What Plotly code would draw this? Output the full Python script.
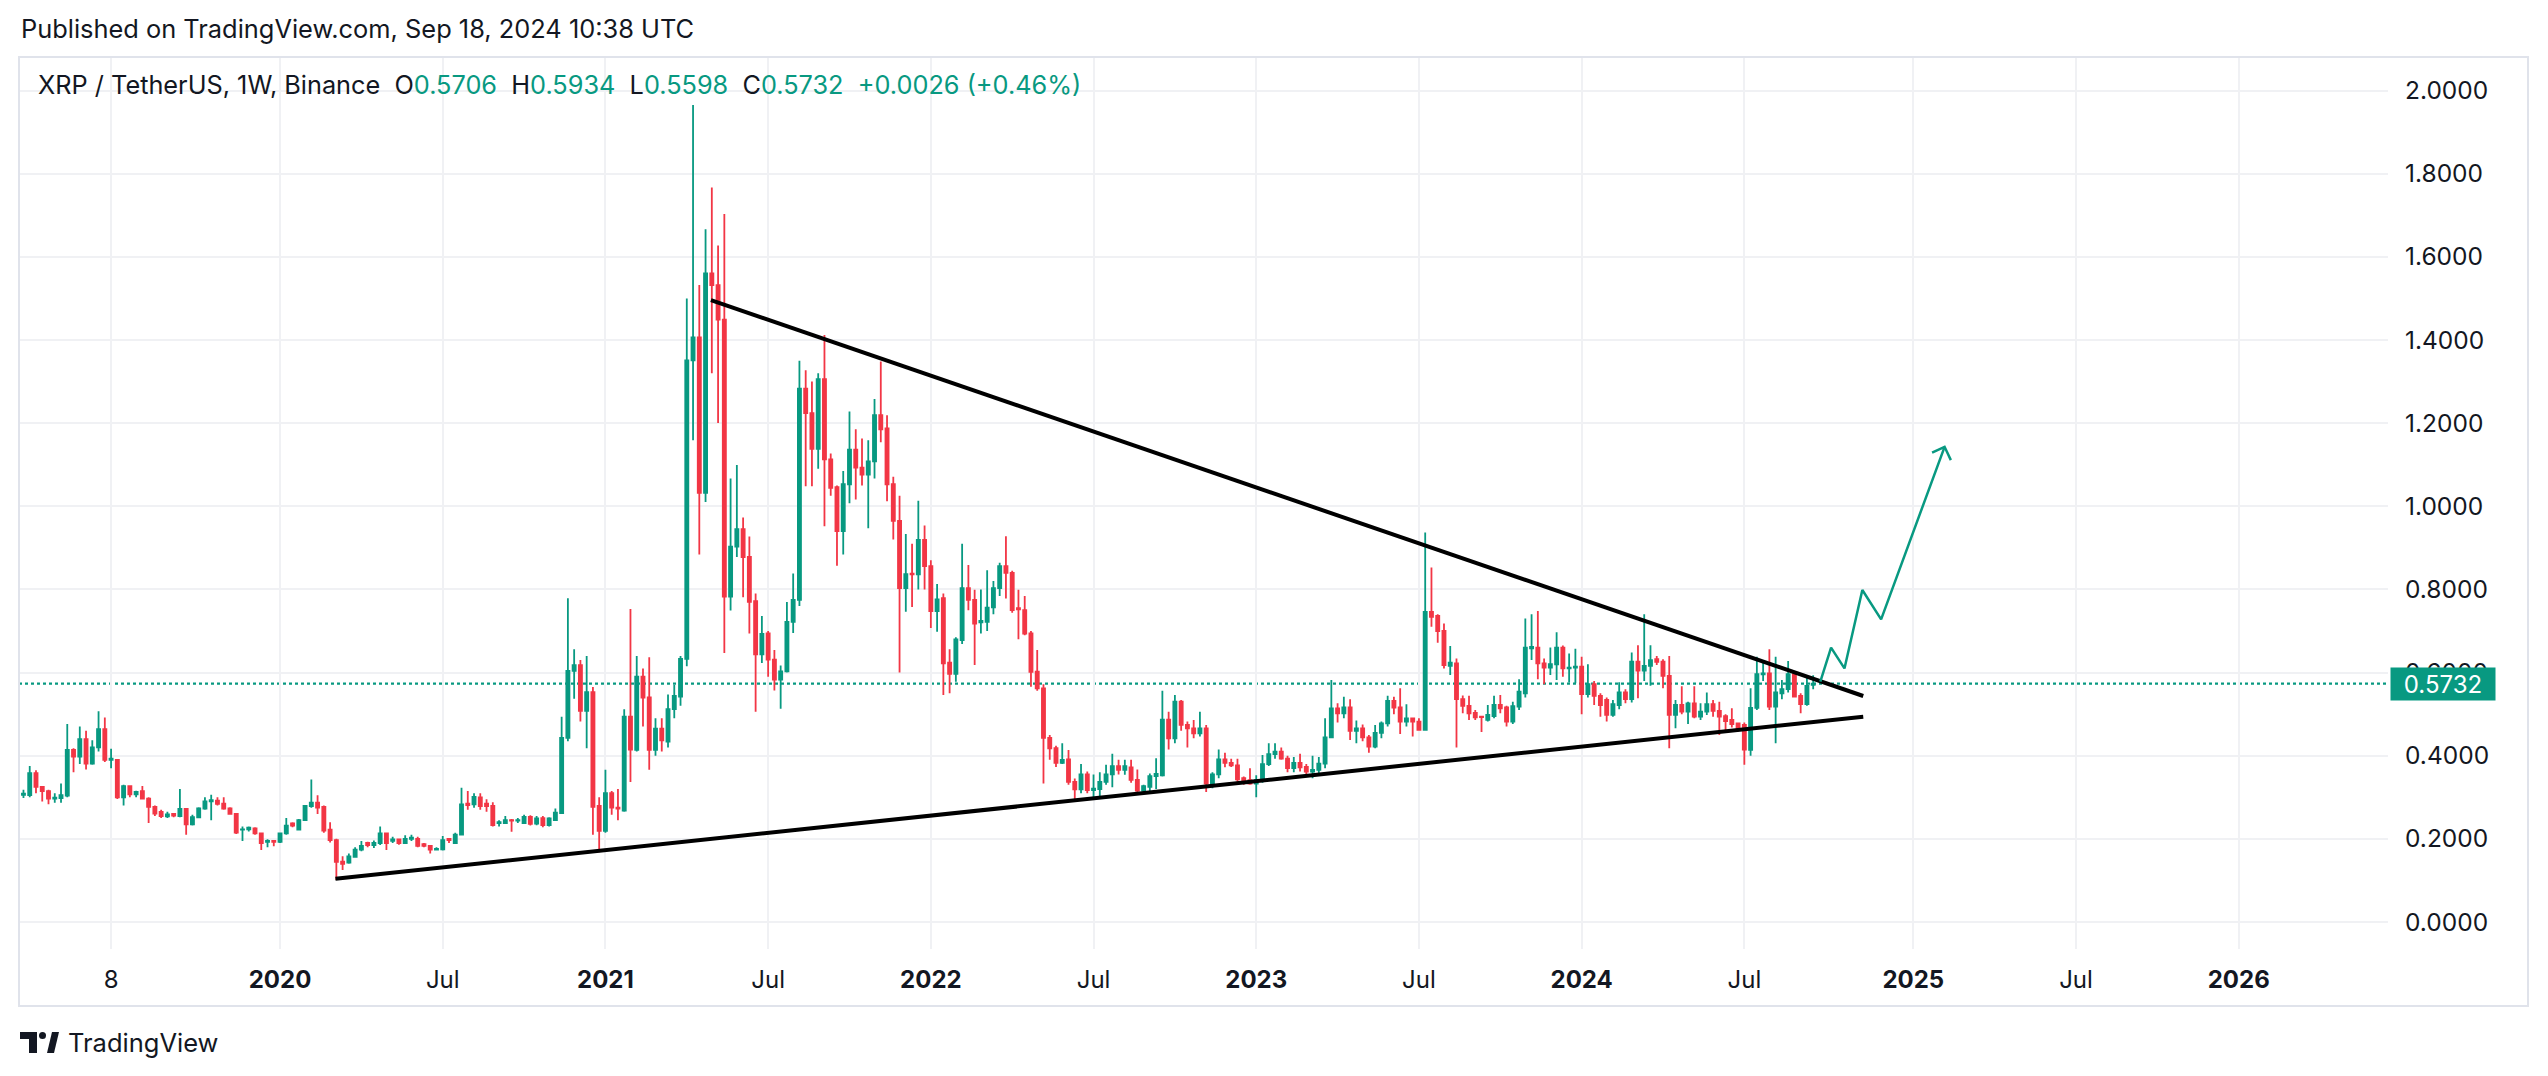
import pandas as pd
import plotly.graph_objects as go

# ---------------- data (weekly XRP/USDT, Binance) ----------------
first_week = "2019-03-25"

opens = [
    0.306, 0.305, 0.358, 0.325, 0.315, 0.297, 0.298, 0.304, 0.414, 0.398,
    0.440, 0.381, 0.420, 0.464, 0.390, 0.390, 0.300, 0.327, 0.307, 0.315,
    0.297, 0.277, 0.265, 0.254, 0.260, 0.255, 0.272, 0.235, 0.252, 0.273,
    0.290, 0.292, 0.285, 0.273, 0.260, 0.222, 0.223, 0.225, 0.213, 0.193,
    0.195, 0.193, 0.213, 0.237, 0.222, 0.245, 0.279, 0.287, 0.277, 0.222,
    0.197, 0.145, 0.143, 0.157, 0.174, 0.190, 0.185, 0.190, 0.213, 0.195,
    0.199, 0.190, 0.200, 0.200, 0.187, 0.183, 0.174, 0.175, 0.200, 0.190,
    0.210, 0.285, 0.283, 0.300, 0.285, 0.279, 0.238, 0.238, 0.245, 0.244,
    0.238, 0.253, 0.237, 0.250, 0.233, 0.245, 0.262, 0.443, 0.604, 0.618,
    0.508, 0.553, 0.279, 0.219, 0.310, 0.275, 0.268, 0.494, 0.414, 0.590,
    0.540, 0.414, 0.465, 0.434, 0.512, 0.542, 0.633, 1.351, 1.406, 1.032,
    1.560, 1.532, 1.449, 0.783, 0.903, 0.945, 0.878, 0.772, 0.644, 0.694,
    0.631, 0.583, 0.603, 0.722, 0.775, 1.283, 1.224, 1.138, 1.306, 1.113,
    1.046, 0.940, 1.053, 1.136, 1.093, 1.076, 1.108, 1.219, 1.187, 1.053,
    0.965, 0.803, 0.838, 0.836, 0.919, 0.856, 0.748, 0.779, 0.624, 0.597,
    0.678, 0.803, 0.775, 0.721, 0.722, 0.757, 0.803, 0.856, 0.840, 0.755,
    0.750, 0.694, 0.602, 0.562, 0.443, 0.418, 0.383, 0.391, 0.337, 0.319,
    0.355, 0.317, 0.320, 0.337, 0.355, 0.375, 0.366, 0.372, 0.342, 0.316,
    0.325, 0.351, 0.353, 0.487, 0.442, 0.530, 0.474, 0.466, 0.454, 0.466,
    0.333, 0.355, 0.391, 0.383, 0.377, 0.346, 0.341, 0.333, 0.341, 0.380,
    0.404, 0.410, 0.393, 0.370, 0.383, 0.373, 0.362, 0.366, 0.381, 0.444,
    0.514, 0.502, 0.516, 0.460, 0.466, 0.444, 0.422, 0.455, 0.478, 0.532,
    0.516, 0.482, 0.490, 0.482, 0.462, 0.746, 0.736, 0.700, 0.616, 0.622,
    0.536, 0.520, 0.503, 0.494, 0.486, 0.495, 0.522, 0.516, 0.482, 0.518,
    0.550, 0.658, 0.660, 0.622, 0.612, 0.620, 0.660, 0.610, 0.612, 0.614,
    0.548, 0.572, 0.544, 0.534, 0.498, 0.522, 0.552, 0.536, 0.626, 0.605,
    0.616, 0.632, 0.626, 0.592, 0.498, 0.522, 0.506, 0.526, 0.494, 0.506,
    0.524, 0.508, 0.495, 0.486, 0.478, 0.474, 0.414, 0.515, 0.596, 0.598,
    0.518, 0.550, 0.560, 0.596, 0.544, 0.524, 0.5706,
]

highs = [
    0.318, 0.375, 0.365, 0.327, 0.318, 0.310, 0.333, 0.476, 0.418, 0.470,
    0.460, 0.437, 0.507, 0.492, 0.417, 0.392, 0.330, 0.329, 0.316, 0.327,
    0.300, 0.280, 0.270, 0.265, 0.262, 0.320, 0.273, 0.258, 0.276, 0.300,
    0.306, 0.300, 0.300, 0.276, 0.262, 0.230, 0.230, 0.228, 0.215, 0.199,
    0.197, 0.215, 0.250, 0.240, 0.248, 0.280, 0.343, 0.305, 0.280, 0.240,
    0.200, 0.158, 0.165, 0.180, 0.195, 0.193, 0.196, 0.230, 0.215, 0.205,
    0.200, 0.209, 0.210, 0.205, 0.190, 0.185, 0.180, 0.207, 0.200, 0.215,
    0.323, 0.315, 0.310, 0.310, 0.295, 0.288, 0.245, 0.255, 0.248, 0.250,
    0.258, 0.257, 0.255, 0.255, 0.252, 0.273, 0.494, 0.779, 0.656, 0.630,
    0.640, 0.565, 0.300, 0.366, 0.315, 0.320, 0.512, 0.753, 0.640, 0.610,
    0.637, 0.490, 0.490, 0.547, 0.570, 0.640, 1.500, 1.965, 1.532, 1.666,
    1.767, 1.627, 1.703, 1.067, 1.099, 0.973, 0.927, 0.790, 0.736, 0.700,
    0.654, 0.617, 0.770, 0.838, 1.350, 1.327, 1.300, 1.320, 1.412, 1.127,
    1.050, 1.085, 1.228, 1.185, 1.163, 1.159, 1.258, 1.348, 1.219, 1.071,
    1.025, 0.933, 0.910, 1.013, 0.954, 0.870, 0.813, 0.790, 0.656, 0.685,
    0.910, 0.859, 0.799, 0.800, 0.846, 0.820, 0.864, 0.928, 0.845, 0.799,
    0.784, 0.700, 0.654, 0.572, 0.450, 0.424, 0.430, 0.414, 0.345, 0.380,
    0.362, 0.355, 0.360, 0.378, 0.405, 0.390, 0.390, 0.390, 0.367, 0.330,
    0.357, 0.394, 0.556, 0.506, 0.546, 0.534, 0.482, 0.486, 0.506, 0.474,
    0.360, 0.415, 0.407, 0.393, 0.393, 0.350, 0.370, 0.353, 0.402, 0.430,
    0.430, 0.420, 0.400, 0.397, 0.405, 0.380, 0.400, 0.397, 0.490, 0.582,
    0.526, 0.542, 0.536, 0.485, 0.475, 0.450, 0.474, 0.482, 0.544, 0.542,
    0.562, 0.524, 0.492, 0.490, 0.937, 0.853, 0.740, 0.718, 0.664, 0.634,
    0.545, 0.544, 0.510, 0.495, 0.522, 0.544, 0.546, 0.520, 0.530, 0.584,
    0.730, 0.740, 0.748, 0.634, 0.660, 0.697, 0.665, 0.646, 0.657, 0.638,
    0.620, 0.580, 0.550, 0.540, 0.534, 0.577, 0.560, 0.648, 0.666, 0.740,
    0.666, 0.640, 0.632, 0.640, 0.534, 0.567, 0.530, 0.567, 0.526, 0.552,
    0.534, 0.530, 0.500, 0.514, 0.480, 0.480, 0.562, 0.638, 0.630, 0.656,
    0.638, 0.582, 0.628, 0.600, 0.550, 0.594, 0.5934,
]

lows = [
    0.298, 0.300, 0.310, 0.290, 0.283, 0.287, 0.287, 0.300, 0.360, 0.380,
    0.367, 0.378, 0.410, 0.385, 0.370, 0.296, 0.280, 0.300, 0.300, 0.295,
    0.238, 0.255, 0.250, 0.250, 0.252, 0.252, 0.210, 0.232, 0.250, 0.270,
    0.245, 0.280, 0.270, 0.258, 0.212, 0.195, 0.218, 0.210, 0.173, 0.180,
    0.182, 0.190, 0.210, 0.228, 0.220, 0.243, 0.275, 0.260, 0.215, 0.191,
    0.101, 0.125, 0.140, 0.155, 0.170, 0.180, 0.178, 0.185, 0.173, 0.190,
    0.186, 0.188, 0.195, 0.180, 0.180, 0.165, 0.172, 0.172, 0.190, 0.190,
    0.210, 0.270, 0.275, 0.270, 0.265, 0.230, 0.230, 0.236, 0.217, 0.238,
    0.236, 0.232, 0.233, 0.228, 0.230, 0.243, 0.260, 0.435, 0.537, 0.482,
    0.418, 0.210, 0.168, 0.215, 0.258, 0.245, 0.265, 0.337, 0.410, 0.470,
    0.366, 0.400, 0.410, 0.420, 0.490, 0.520, 0.615, 1.159, 0.884, 1.010,
    1.320, 1.200, 0.647, 0.749, 0.878, 0.781, 0.694, 0.506, 0.623, 0.590,
    0.557, 0.513, 0.600, 0.695, 0.760, 1.048, 1.048, 1.090, 0.952, 1.025,
    0.857, 0.884, 1.007, 1.016, 1.050, 0.947, 1.067, 1.154, 1.012, 0.920,
    0.600, 0.746, 0.758, 0.800, 0.800, 0.707, 0.698, 0.546, 0.550, 0.578,
    0.669, 0.750, 0.618, 0.694, 0.700, 0.740, 0.784, 0.778, 0.744, 0.680,
    0.690, 0.566, 0.556, 0.333, 0.390, 0.373, 0.380, 0.330, 0.295, 0.310,
    0.310, 0.300, 0.302, 0.330, 0.324, 0.355, 0.354, 0.335, 0.310, 0.310,
    0.310, 0.320, 0.350, 0.415, 0.430, 0.460, 0.420, 0.442, 0.446, 0.313,
    0.322, 0.346, 0.372, 0.373, 0.335, 0.330, 0.330, 0.300, 0.335, 0.375,
    0.393, 0.390, 0.360, 0.360, 0.362, 0.350, 0.346, 0.354, 0.370, 0.442,
    0.480, 0.490, 0.438, 0.430, 0.435, 0.407, 0.418, 0.442, 0.470, 0.500,
    0.452, 0.470, 0.446, 0.460, 0.460, 0.710, 0.672, 0.610, 0.594, 0.420,
    0.502, 0.486, 0.486, 0.457, 0.482, 0.490, 0.502, 0.470, 0.476, 0.510,
    0.540, 0.630, 0.584, 0.572, 0.594, 0.582, 0.590, 0.576, 0.574, 0.500,
    0.540, 0.522, 0.494, 0.482, 0.494, 0.512, 0.526, 0.528, 0.538, 0.580,
    0.568, 0.618, 0.562, 0.418, 0.466, 0.500, 0.476, 0.490, 0.486, 0.498,
    0.494, 0.450, 0.458, 0.468, 0.458, 0.378, 0.400, 0.510, 0.580, 0.510,
    0.430, 0.536, 0.552, 0.540, 0.502, 0.520, 0.5598,
]

closes = [
    0.309, 0.358, 0.325, 0.315, 0.297, 0.299, 0.305, 0.414, 0.398, 0.440,
    0.381, 0.420, 0.464, 0.390, 0.393, 0.300, 0.327, 0.307, 0.313, 0.297,
    0.277, 0.261, 0.255, 0.259, 0.256, 0.272, 0.235, 0.252, 0.273, 0.290,
    0.293, 0.284, 0.273, 0.260, 0.215, 0.223, 0.227, 0.213, 0.190, 0.195,
    0.193, 0.213, 0.232, 0.232, 0.245, 0.279, 0.287, 0.275, 0.220, 0.197,
    0.145, 0.140, 0.158, 0.174, 0.183, 0.185, 0.190, 0.213, 0.190, 0.199,
    0.190, 0.200, 0.203, 0.183, 0.183, 0.174, 0.176, 0.197, 0.197, 0.210,
    0.283, 0.281, 0.301, 0.279, 0.279, 0.233, 0.240, 0.245, 0.244, 0.245,
    0.253, 0.236, 0.249, 0.233, 0.249, 0.263, 0.443, 0.604, 0.618, 0.508,
    0.553, 0.277, 0.219, 0.310, 0.275, 0.273, 0.494, 0.415, 0.590, 0.540,
    0.414, 0.465, 0.437, 0.512, 0.544, 0.633, 1.351, 1.406, 1.032, 1.560,
    1.532, 1.449, 0.783, 0.903, 0.945, 0.878, 0.770, 0.644, 0.693, 0.631,
    0.583, 0.603, 0.722, 0.775, 1.283, 1.224, 1.138, 1.306, 1.113, 1.044,
    0.940, 1.053, 1.136, 1.093, 1.076, 1.108, 1.219, 1.185, 1.053, 0.965,
    0.803, 0.837, 0.836, 0.919, 0.856, 0.748, 0.776, 0.622, 0.597, 0.680,
    0.803, 0.775, 0.718, 0.724, 0.756, 0.803, 0.856, 0.840, 0.750, 0.752,
    0.694, 0.602, 0.562, 0.443, 0.418, 0.383, 0.390, 0.337, 0.319, 0.355,
    0.317, 0.321, 0.337, 0.355, 0.375, 0.366, 0.375, 0.342, 0.316, 0.327,
    0.351, 0.356, 0.487, 0.442, 0.530, 0.474, 0.466, 0.454, 0.466, 0.333,
    0.355, 0.391, 0.383, 0.377, 0.343, 0.341, 0.333, 0.341, 0.380, 0.404,
    0.410, 0.393, 0.370, 0.383, 0.372, 0.362, 0.366, 0.381, 0.444, 0.514,
    0.502, 0.516, 0.460, 0.466, 0.444, 0.422, 0.455, 0.478, 0.532, 0.516,
    0.482, 0.490, 0.482, 0.462, 0.746, 0.734, 0.700, 0.618, 0.624, 0.536,
    0.520, 0.502, 0.492, 0.493, 0.498, 0.522, 0.514, 0.482, 0.519, 0.554,
    0.660, 0.662, 0.622, 0.612, 0.620, 0.660, 0.610, 0.612, 0.614, 0.548,
    0.572, 0.544, 0.522, 0.498, 0.524, 0.552, 0.536, 0.626, 0.605, 0.616,
    0.630, 0.626, 0.592, 0.498, 0.522, 0.506, 0.526, 0.494, 0.506, 0.524,
    0.508, 0.494, 0.483, 0.476, 0.462, 0.415, 0.515, 0.596, 0.598, 0.518,
    0.552, 0.560, 0.596, 0.542, 0.524, 0.568, 0.5732,
]

last_price = 0.5732

# drawings (trendlines and projected path)
upper_line_dates = ["2021-05-02", "2024-11-11"]
upper_line_prices = [1.496, 0.5436]
lower_line_dates = ["2020-03-08", "2024-11-11"]
lower_line_prices = [0.104, 0.4938]
path_dates = ["2024-09-24", "2024-10-06", "2024-10-21", "2024-11-10", "2024-12-01", "2025-02-10"]
path_prices = [0.578, 0.660, 0.610, 0.7986, 0.728, 1.143]
arrow_dates = ["2025-01-27", "2025-02-10", "2025-02-17"]
arrow_prices = [1.129, 1.143, 1.111]

# axis ticks
x_tick_dates = ["2019-07-01", "2020-01-06", "2020-07-06", "2021-01-04", "2021-07-05",
                "2022-01-03", "2022-07-04", "2023-01-02", "2023-07-03", "2024-01-01",
                "2024-07-01", "2025-01-06", "2025-07-07", "2026-01-05"]
x_tick_labels = ["8", "<b>2020</b>", "Jul", "<b>2021</b>", "Jul", "<b>2022</b>", "Jul",
                 "<b>2023</b>", "Jul", "<b>2024</b>", "Jul", "<b>2025</b>", "Jul", "<b>2026</b>"]
y_ticks = [0.0, 0.2, 0.4, 0.6, 0.8, 1.0, 1.2, 1.4, 1.6, 1.8, 2.0]

# ---------------- figure ----------------
GREEN = "#089981"
RED = "#F23645"
TEXT = "#131722"
GRID = "#F0F1F4"

W, H = 2548, 1076
L, R, T, B = 19, 160, 57, 127
PW, PH = W - L - R, H - T - B


def px(x):
    return (x - L) / PW


def py(y):
    return (H - B - y) / PH


dates = pd.date_range(first_week, periods=len(closes), freq="7D")

fig = go.Figure()

fig.add_trace(go.Candlestick(
    x=dates, open=opens, high=highs, low=lows, close=closes,
    increasing=dict(line=dict(color=GREEN, width=1.8), fillcolor=GREEN),
    decreasing=dict(line=dict(color=RED, width=1.8), fillcolor=RED),
    whiskerwidth=0, hoverinfo="skip", showlegend=False,
))

for dx, dy in [(upper_line_dates, upper_line_prices), (lower_line_dates, lower_line_prices)]:
    fig.add_trace(go.Scatter(x=dx, y=dy, mode="lines",
                             line=dict(color="#000000", width=4),
                             hoverinfo="skip", showlegend=False))

fig.add_trace(go.Scatter(x=path_dates, y=path_prices, mode="lines",
                         line=dict(color=GREEN, width=2.5),
                         hoverinfo="skip", showlegend=False))
fig.add_trace(go.Scatter(x=arrow_dates, y=arrow_prices, mode="lines",
                         line=dict(color=GREEN, width=2.5),
                         hoverinfo="skip", showlegend=False))

# last price dotted line
fig.add_shape(type="line", xref="paper", yref="y", x0=0, x1=1, y0=last_price, y1=last_price,
              line=dict(color=GREEN, width=2.2, dash="dot"), layer="below")

# chart frame
fig.add_shape(type="rect", xref="paper", yref="paper",
              x0=px(19), x1=px(2528), y0=py(1006), y1=py(57),
              line=dict(color="#E0E3EB", width=2), fillcolor="rgba(0,0,0,0)", layer="above")

# TradingView logo (simple glyph)
fig.add_shape(type="rect", xref="paper", yref="paper", x0=px(20), x1=px(37), y0=py(1039), y1=py(1032),
              line=dict(width=0), fillcolor=TEXT)
fig.add_shape(type="rect", xref="paper", yref="paper", x0=px(29), x1=px(37), y0=py(1053), y1=py(1032),
              line=dict(width=0), fillcolor=TEXT)
fig.add_shape(type="circle", xref="paper", yref="paper", x0=px(39), x1=px(46), y0=py(1039), y1=py(1032),
              line=dict(width=0), fillcolor=TEXT)
fig.add_shape(type="path", xref="paper", yref="paper",
              path=f"M {px(47)} {py(1053)} L {px(52)} {py(1032)} L {px(59)} {py(1032)} L {px(54)} {py(1053)} Z",
              line=dict(width=0), fillcolor=TEXT)

annotations = [
    dict(text="Published on TradingView.com, Sep 18, 2024 10:38 UTC",
         xref="paper", yref="paper", x=px(19), y=py(29), xanchor="left", yanchor="middle",
         showarrow=False, font=dict(size=25.4, color=TEXT)),
    dict(text=(f"XRP / TetherUS, 1W, Binance  O<span style='color:{GREEN}'>0.5706</span>  "
               f"H<span style='color:{GREEN}'>0.5934</span>  L<span style='color:{GREEN}'>0.5598</span>  "
               f"C<span style='color:{GREEN}'>0.5732</span>  "
               f"<span style='color:{GREEN}'>+0.0026 (+0.46%)</span>"),
         xref="paper", yref="paper", x=px(36), y=py(84), xanchor="left", yanchor="middle",
         showarrow=False, font=dict(size=25.3, color=TEXT)),
    dict(text="0.5732", xref="paper", yref="y", x=px(2443), y=last_price,
         xanchor="center", yanchor="middle", showarrow=False,
         bgcolor=GREEN, width=104, height=32, borderpad=0,
         font=dict(size=24, color="#FFFFFF")),
    dict(text="TradingView", xref="paper", yref="paper", x=px(66), y=py(1042),
         xanchor="left", yanchor="middle", showarrow=False,
         font=dict(size=25.5, color=TEXT)),
]

fig.update_layout(
    width=W, height=H,
    margin=dict(l=L, r=R, t=T, b=B),
    paper_bgcolor="#FFFFFF", plot_bgcolor="#FFFFFF",
    showlegend=False,
    font=dict(family="Inter, Roboto, sans-serif", color=TEXT, size=24),
    annotations=annotations,
    xaxis=dict(
        type="date", range=["2019-03-20", "2026-06-21"],
        tickvals=x_tick_dates, ticktext=x_tick_labels,
        showgrid=True, gridcolor=GRID, gridwidth=2,
        zeroline=False, showline=False, ticks="",
        ticklabelstandoff=14,
        rangeslider=dict(visible=False), fixedrange=True,
        tickfont=dict(size=24, color=TEXT),
    ),
    yaxis=dict(
        side="right", range=[-0.0649, 2.0806],
        tickvals=y_ticks, tickformat=".4f",
        showgrid=True, gridcolor=GRID, gridwidth=2,
        zeroline=False, showline=False, ticks="",
        ticklabelstandoff=16, fixedrange=True,
        tickfont=dict(size=24.5, color=TEXT),
    ),
)

fig.write_html("out.html", config={"displayModeBar": False},
               post_script="document.body.style.margin='0';")
